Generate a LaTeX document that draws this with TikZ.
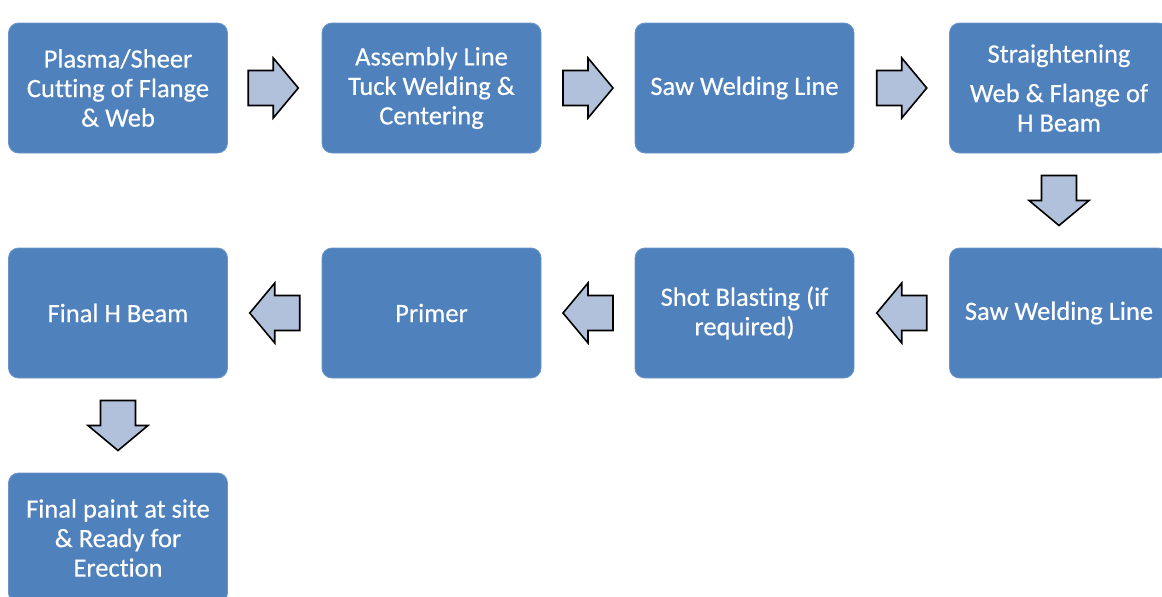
\documentclass[tikz,border=0pt]{standalone}
\usepackage{fontspec}
\setmainfont[Ligatures=NoCommon,FakeBold=0.4]{Carlito}
\definecolor{boxblue}{HTML}{4F81BD}
\definecolor{boxedge}{HTML}{6C95C8}
\definecolor{arrfill}{HTML}{B2C1DB}
\begin{document}
\begin{tikzpicture}[x=1pt,y=-1pt,
  box/.style={draw=boxedge,line width=0.8pt,fill=boxblue,rounded corners=10pt,
    minimum width=219pt,minimum height=130pt,inner sep=4pt,align=center,
    text=white,font=\fontsize{26.5}{29.5}\selectfont},
  blockarrow/.pic={\draw[fill=arrfill,draw=black,line width=1.6pt,line join=miter]
    (-25,-17.5) -- (0,-17.5) -- (0,-30) -- (25,0) -- (0,30) -- (0,17.5) -- (-25,17.5) -- cycle;}
]
\useasboundingbox (0,0) rectangle (1162,597);
\clip (0,0) rectangle (1162,597);
\node[box] (b1) at (118,88) {Plasma/Sheer\\Cutting of Flange\\\& Web};
\node[box] (b2) at (431.5,88) {Assembly Line\\Tuck Welding \&\\Centering};
\node[box] (b3) at (744.5,88) {Saw Welding Line};
\node[box] (b4) at (1059,88) {Straightening\\[10pt]Web \& Flange of\\H Beam};
\node[box] (b5) at (1059,313) {Saw Welding Line};
\node[box] (b6) at (744.5,313) {Shot Blasting (if\\required)};
\node[box] (b7) at (431.5,313) {Primer};
\node[box] (b8) at (118,313) {Final H Beam};
\node[box] (b9) at (118,538) {Final paint at site\\\& Ready for\\Erection};
\path (b1.east) -- (b2.west) coordinate[midway] (a12);
\path (b2.east) -- (b3.west) coordinate[midway] (a23);
\path (b3.east) -- (b4.west) coordinate[midway] (a34);
\path (b4.south) -- (b5.north) coordinate[midway] (a45);
\path (b5.west) -- (b6.east) coordinate[midway] (a56);
\path (b6.west) -- (b7.east) coordinate[midway] (a67);
\path (b7.west) -- (b8.east) coordinate[midway] (a78);
\path (b8.south) -- (b9.north) coordinate[midway] (a89);
\pic at ([xshift=-1.5pt]a12) {blockarrow};
\pic at (a23) {blockarrow};
\pic at (a34) {blockarrow};
\pic[rotate=-90] at (a45) {blockarrow};
\pic[rotate=180] at (a56) {blockarrow};
\pic[rotate=180] at (a67) {blockarrow};
\pic[rotate=180] at (a78) {blockarrow};
\pic[rotate=-90] at (a89) {blockarrow};
\end{tikzpicture}
\end{document}
